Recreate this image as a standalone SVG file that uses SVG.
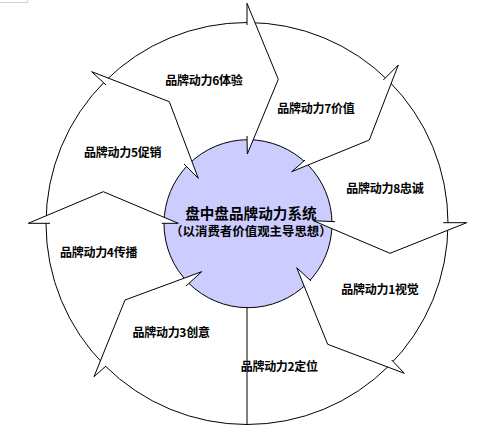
<svg xmlns="http://www.w3.org/2000/svg" width="498" height="433" viewBox="0 0 498 433">
<style>
.ln{fill:none;stroke:#000;stroke-width:1}
.wedge{fill:#fff;stroke:none}
.lbl{font-family:'Noto Sans CJK SC','Noto Sans CJK JP',sans-serif;font-weight:bold;font-size:12px;fill:#000;text-anchor:middle}
.ttl{font-family:'Noto Sans CJK SC','Noto Sans CJK JP',sans-serif;font-weight:bold;fill:#000;text-anchor:middle}
</style>
<rect x="0" y="0" width="498" height="433" fill="#fff"/>
<path d="M0,2.5H27.5V0" fill="none" stroke="#cfcfcf" stroke-width="1"/>
<g id="ring">
<circle cx="247" cy="223.5" r="201" class="ln"/>
</g>
<g id="center">
<circle cx="248" cy="223.7" r="84" fill="#ccccff" stroke="#000" stroke-width="1"/>
</g>
<g id="connectors">
<polygon class="wedge" points="247,25 247,3.3 278.3,79.3 247.3,154 247,136"/>
<polygon class="wedge" points="383.3,80 398.3,65 369.3,140 291.7,171.7 305,160"/>
<polygon class="wedge" points="443.3,222.7 466.7,222.7 390,253.3 313.3,220.7 335,221.7"/>
<polygon class="wedge" points="391.7,360 404.3,373.3 327.7,344.3 296.7,267.7 311,281"/>
<polygon class="wedge" points="106,366 94,376.7 125,300 201.7,271.7 186,286"/>
<polygon class="wedge" points="50,223.3 28.3,223.3 103.3,191.7 178.3,223.3 161.7,223.3"/>
<polygon class="wedge" points="106,85 91.7,71.7 169.3,101.7 198.3,178.3 184,164"/>
<polyline class="ln" points="247,25 247,3.3 278.3,79.3 247.3,154 247,136"/>
<polyline class="ln" points="383.3,80 398.3,65 369.3,140 291.7,171.7 305,160"/>
<polyline class="ln" points="443.3,222.7 466.7,222.7 390,253.3 313.3,220.7 335,221.7"/>
<polyline class="ln" points="391.7,360 404.3,373.3 327.7,344.3 296.7,267.7 311,281"/>
<polyline class="ln" points="106,366 94,376.7 125,300 201.7,271.7 186,286"/>
<polyline class="ln" points="50,223.3 28.3,223.3 103.3,191.7 178.3,223.3 161.7,223.3"/>
<polyline class="ln" points="106,85 91.7,71.7 169.3,101.7 198.3,178.3 184,164"/>
<line class="ln" x1="247" y1="307.5" x2="247" y2="424.5"/>
</g>
<g id="center-text">
<text class="ttl" x="250.9" y="219" font-size="14.5" textLength="131.5" lengthAdjust="spacingAndGlyphs">盘中盘品牌动力系统</text>
<text class="ttl" x="250.9" y="236" font-size="12.4" textLength="161.5" lengthAdjust="spacing">（以消费者价值观主导思想）</text>
</g>
<g id="node1"><text class="lbl" x="380" y="294" textLength="77.4">品牌动力1视觉</text></g>
<g id="node2"><text class="lbl" x="279.4" y="370.5" textLength="77.4">品牌动力2定位</text></g>
<g id="node3"><text class="lbl" x="171.2" y="337" textLength="77.4">品牌动力3创意</text></g>
<g id="node4"><text class="lbl" x="98.7" y="256.5" textLength="77.4">品牌动力4传播</text></g>
<g id="node5"><text class="lbl" x="122.8" y="157" textLength="77.4">品牌动力5促销</text></g>
<g id="node6"><text class="lbl" x="204" y="85" textLength="77.4">品牌动力6体验</text></g>
<g id="node7"><text class="lbl" x="316" y="113" textLength="77.4">品牌动力7价值</text></g>
<g id="node8"><text class="lbl" x="385" y="192.5" textLength="77.4">品牌动力8忠诚</text></g>
</svg>
